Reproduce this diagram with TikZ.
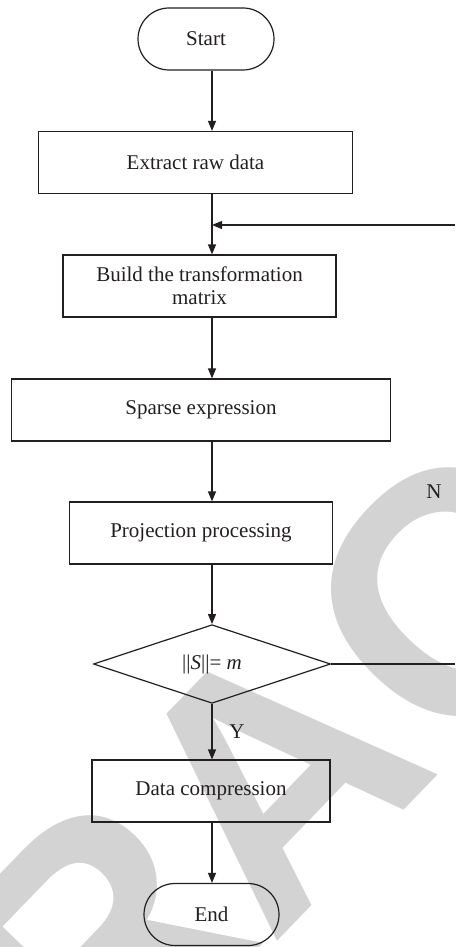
\documentclass[tikz,border=0pt]{standalone}
\usepackage{fontspec}
\setmainfont{Liberation Serif}
\newfontfamily\stampfont{Liberation Sans}
\usetikzlibrary{shapes.geometric,shapes.misc,arrows.meta}
\definecolor{stampgray}{RGB}{211,211,211}
\definecolor{ink}{RGB}{35,31,32}
\begin{document}
\begin{tikzpicture}[x=1pt,y=-1pt,
  every node/.style={text=ink},
  label/.style={font=\fontsize{21}{25}\selectfont},
  procbox/.style={draw=ink, line width=1.2pt, rectangle, minimum height=62pt,
    inner sep=0pt, align=center, font=\fontsize{21}{25}\selectfont},
  termbox/.style={draw=ink, line width=1.2pt, rounded rectangle, minimum height=62pt,
    inner sep=0pt, font=\fontsize{21}{25}\selectfont},
  decbox/.style={draw=ink, line width=1.2pt, diamond, inner sep=0pt,
    minimum width=237pt, minimum height=72pt, font=\fontsize{21}{25}\selectfont},
  flow/.style={draw=ink, line width=1.2pt},
  arr/.style={flow, -{Triangle[length=10pt,width=8pt]}},
  stamp/.style={text=stampgray, inner sep=0pt, anchor=base, rotate=46,
    font=\stampfont\bfseries\fontsize{345}{345}\selectfont}
]
\useasboundingbox (0,0) rectangle (455,947);

% stamp lettering behind the chart
\begin{scope}
  \clip (0,0) rectangle (455,947);
  \node[stamp] (stR) at (182,1028) {R};
  \node[stamp] (stA) at (358,858) {A};
  \node[stamp] (stC) at (538,680) {C};
  \node[stamp] (stT) at (698,515) {T};
\end{scope}

% flowchart steps
\node[termbox, minimum width=136pt] (start) at (206,39) {Start};
\node[procbox, minimum width=314pt] (extract) at (195.5,162.5) {Extract raw data};
\node[procbox, minimum width=273pt] (build) at (199.5,286) {Build the transformation\\[-2pt]matrix};
\node[procbox, minimum width=379pt] (sparse) at (201,410) {Sparse expression};
\node[procbox, minimum width=263pt] (proj) at (201,533) {Projection processing};
\node[decbox] (test) at (212,664) {||\textit{S}||= \textit{m}};
\node[procbox, minimum width=238pt] (compress) at (211,791) {Data compression};
\node[termbox, minimum width=135pt] (end) at (211.5,914.5) {End};

% loop-back ends at the right margin
\coordinate (loopin) at (455,225);
\coordinate (loopout) at (455,664);

% connectors
\draw[arr] (start.south -| test.north) -- (extract.north -| test.north);
\draw[arr] (extract.south -| test.north) -- (build.north -| test.north);
\draw[arr] (loopin) -- (loopin -| test.north);
\draw[arr] (build.south -| test.north) -- (sparse.north -| test.north);
\draw[arr] (sparse.south -| test.north) -- (proj.north -| test.north);
\draw[arr] (proj.south -| test.north) -- (test.north);
\draw[arr] (test.south) -- (compress.north -| test.south);
\draw[arr] (compress.south -| test.south) -- (end.north -| test.south);
\draw[flow] (test.east) -- (loopout);

% branch labels
\node[label] (nlab) at (434,492) {N};
\node[label] (ylab) at (237,732) {Y};
\end{tikzpicture}
\end{document}
